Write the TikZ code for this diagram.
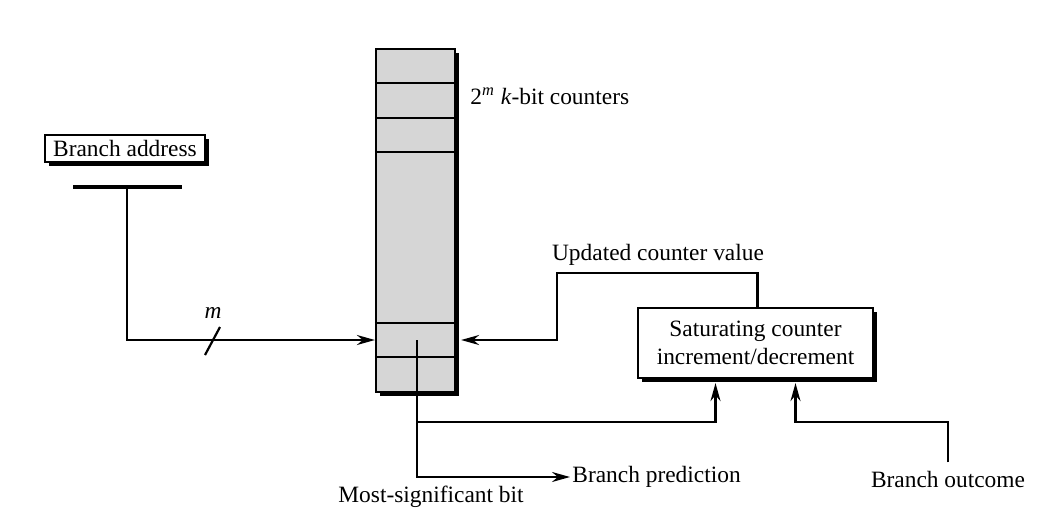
\documentclass[tikz,border=0pt]{standalone}
\usepackage{fontspec}
\setmainfont{Liberation Serif}
\usetikzlibrary{arrows.meta,shadows}

\tikzset{
  wire/.style={line width=1.1pt},
  arr/.style={wire, -{Stealth[length=9pt,width=5pt]}},
  boxshadow/.style={drop shadow={shadow xshift=2pt, shadow yshift=-2pt, fill=black, opacity=1}},
  box/.style={draw, line width=1.1pt, fill=white, boxshadow, align=center, inner sep=0pt},
  counters/.style={draw, line width=1.1pt, fill=black!16, boxshadow, inner sep=0pt},
  lbl/.style={inner sep=1pt},
}

\begin{document}
\begin{tikzpicture}[x=0.5pt, y=-0.5pt, every node/.style={font=\fontsize{11.7}{14}\selectfont}]
    \useasboundingbox (0,0) rectangle (1048,520);

    % counter table
    \node[counters, minimum width=39.5pt, minimum height=171.5pt] (table) at (415.5,220.5) {};
    \foreach \r in {83,118,152,323,357}
        \draw[wire] (table.west |- 0,\r) -- (table.east |- 0,\r);
    \coordinate (row) at (415.5,340);
    \node[lbl, anchor=west] (size) at (468,96) {2\textsuperscript{\itshape m} \textit{k}-bit counters};

    % branch address
    \node[box, minimum width=80pt, minimum height=13.5pt] (addr) at (125,148.5) {Branch address};
    \draw[line width=2pt] (73,187) -- (182,187);
    \coordinate (bar) at (127,187);
    \draw[arr] (bar) |- (row -| table.west);
    \draw[wire] (205,355) -- (220,327);
    \node[lbl] (mlbl) at (213,313) {\textit{m}};

    % saturating counter
    \node[box, minimum width=117.5pt, minimum height=35pt] (sat) at (755.5,343)
        {Saturating counter\\increment/decrement};
    \coordinate (turn) at (557,273);
    \draw[arr] ([xshift=1pt]sat.north) |- (turn) |- ([xshift=2.5pt]row -| table.east);
    \node[lbl] (upd) at (658,255) {Updated counter value};

    % most-significant bit
    \coordinate (msb) at (417,340);
    \coordinate (split) at (417,422);
    \node[lbl, anchor=west] (pred) at (570,477) {Branch prediction};
    \node[lbl, anchor=west] (msbtxt) at (336,497) {Most-significant bit};
    \draw[arr] (msb) |- (pred.west);
    \draw[arr] (split) -| ([xshift=-20pt,yshift=-2pt]sat.south);

    % branch outcome
    \node[lbl] (outcome) at (948,479) {Branch outcome};
    \draw[arr] ([yshift=3pt]outcome.north) |- ([xshift=20pt]sat.south |- split) -- ([xshift=20pt,yshift=-2pt]sat.south);
\end{tikzpicture}
\end{document}
